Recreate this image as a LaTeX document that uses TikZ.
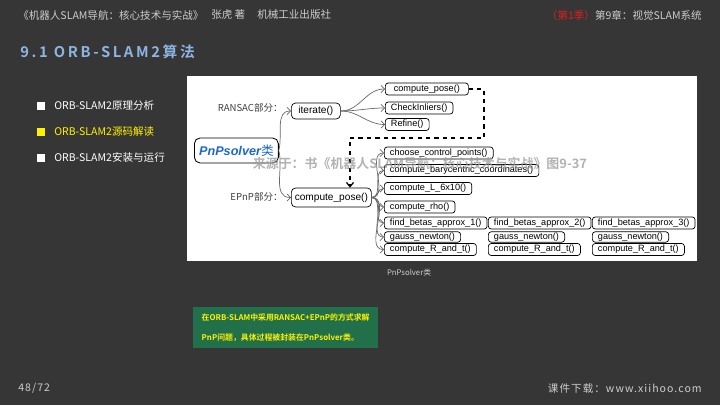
\documentclass[tikz,border=0pt]{standalone}
\usepackage{fontspec}
\setmainfont{Liberation Sans}
\newfontfamily\cjk{Noto Sans CJK SC}[BoldFont={Noto Sans CJK SC Bold}]
\newfontfamily\cjktitle{Noto Sans CJK SC}[BoldFont={Noto Sans CJK SC Bold},LetterSpace=18]
\newfontfamily\cjkwide{Noto Sans CJK SC}[LetterSpace=10]
\usetikzlibrary{arrows.meta,positioning,calc}
\definecolor{slidebg}{RGB}{54,54,54}
\definecolor{headgrey}{RGB}{205,205,205}
\definecolor{titleblue}{RGB}{141,180,226}
\definecolor{bookred}{RGB}{225,30,30}
\definecolor{notegreen}{RGB}{34,112,74}
\definecolor{classblue}{RGB}{30,105,200}
\definecolor{linegrey}{RGB}{105,105,105}
\newcommand\fsz[1]{\fontsize{#1}{#1}\selectfont}

\begin{document}
\begin{tikzpicture}[x=0.025cm, y=-0.025cm,
    head/.style={anchor=west, inner sep=0pt, text=headgrey, font=\cjk\fsz{7.5}},
    bullet/.style={rectangle, inner sep=0pt, minimum size=5pt},
    item/.style={anchor=west, inner sep=0pt, font=\cjk\fsz{7.5}},
    fn/.style={rectangle, draw=black, line width=0.5pt, rounded corners=2pt, fill=white,
               anchor=west, inner xsep=4pt, inner ysep=0pt, minimum height=0.3cm,
               font=\fsz{6.5}},
    hub/.style={fn, rounded corners=3pt, inner xsep=2pt, font=\fsz{7.2}},
    cls/.style={rectangle, draw=black, line width=0.6pt, rounded corners=4pt, fill=white,
                anchor=west, minimum width=2.075cm, minimum height=0.625cm,
                text=classblue, font=\bfseries\itshape\fsz{9}},
    part/.style={anchor=east, inner sep=0pt, text=black!75, font=\cjk\fsz{6.8}},
    link/.style={draw=linegrey, line width=0.5pt, -{Straight Barb[length=2.5pt,width=5pt]}},
    jump/.style={draw=black, dashed, line width=0.9pt, -{Straight Barb[length=3pt,width=5pt]}},
    foot/.style={inner sep=0pt, text=headgrey, font=\cjkwide\fsz{7.5}}
]
    % slide
    \fill[slidebg] (0,0) rectangle (720,405);

    % header line
    \node[head] (hbook) at (18,15) {《机器人SLAM导航：核心技术与实战》};
    \node[head] (hauth) at (211,15) {张虎 著};
    \node[head] (hpub) at (257,15) {机械工业出版社};
    \node[head, anchor=east] (hchap) at (702,15) {\textcolor{bookred}{（第1季）}第9章：视觉SLAM系统};

    % section title
    \node[anchor=west, inner sep=0pt, text=titleblue, font=\cjktitle\bfseries\fsz{10.5}] (title) at (20,52) {9.1 ORB-SLAM2算法};

    % outline
    \node[bullet, fill=white] (b1) at (41,106) {};
    \node[item, text=white] (t1) at (54,106) {ORB-SLAM2原理分析};
    \node[bullet, fill=yellow] (b2) at (41,132) {};
    \node[item, text=yellow] (t2) at (54,132) {ORB-SLAM2源码解读};
    \node[bullet, fill=white] (b3) at (41,158) {};
    \node[item, text=white] (t3) at (54,158) {ORB-SLAM2安装与运行};

    % figure panel
    \fill[white] (187,76) rectangle (697,261);

    % class and its two parts
    \node[cls] (pnp) at (194,150.5) {PnPsolver{\cjk\mdseries 类}};
    \node[hub, minimum width=1.225cm, minimum height=0.4cm] (iter) at (291,111) {iterate()};
    \node[hub, minimum width=2cm, minimum height=0.475cm] (cpe) at (291,197.5) {compute\_pose()};
    \node[part] (lr) at (283,108) {RANSAC部分：};
    \node[part] (le) at (283,197) {EPnP部分：};

    % RANSAC calls
    \node[fn, minimum width=2.075cm] (cpr) at (385,89) {compute\_pose()};
    \node[fn] (chk) at (385,108) {CheckInliers()};
    \node[fn] (ref) at (385,124.5) {Refine()};

    % EPnP calls
    \node[fn] (ccp) at (384,153) {choose\_control\_points()};
    \node[fn] (bar) at (384,170.5) {compute\_barycentric\_coordinates()};
    \node[fn] (l610) at (384,188.5) {compute\_L\_6x10()};
    \node[fn] (rho) at (384,207) {compute\_rho()};
    \node[fn] (fb1) at (384,223) {find\_betas\_approx\_1()};
    \node[fn, minimum height=0.26cm] (gn1) at (384,237) {gauss\_newton()};
    \node[fn] (rt1) at (384,249.5) {compute\_R\_and\_t()};
    \node[fn] (fb2) at (488,223) {find\_betas\_approx\_2()};
    \node[fn, minimum height=0.26cm] (gn2) at (488,237) {gauss\_newton()};
    \node[fn] (rt2) at (488,249.5) {compute\_R\_and\_t()};
    \node[fn] (fb3) at (592,223) {find\_betas\_approx\_3()};
    \node[fn, minimum height=0.26cm] (gn3) at (592,237) {gauss\_newton()};
    \node[fn] (rt3) at (592,249.5) {compute\_R\_and\_t()};

    \draw[link] (pnp.east) to[out=75,in=180] (iter.west);
    \draw[link] (pnp.east) to[out=-75,in=180] (cpe.west);
    \foreach \t in {cpr,chk,ref}
        \draw[link] (iter.east) to[out=0,in=180] (\t.west);
    \foreach \t in {ccp,bar,l610,rho,fb1,gn1,rt1}
        \draw[link] (cpe.east) to[out=0,in=180] (\t.west);

    % RANSAC pose handed over to EPnP
    \coordinate (dturn) at (484,138);
    \coordinate (ddrop) at (350,138);
    \draw[jump] (cpr.east) -| (dturn) -- (ddrop) -- (ddrop |- cpe.north);

    % source note over the figure
    \node[text=black!40, opacity=0.75, font=\cjk\bfseries\fsz{9.2}] (src) at (420,164) {来源于：书《机器人SLAM导航：核心技术与实战》图9-37};

    % caption
    \node[text=headgrey, font=\cjk\fsz{5.5}] (cap) at (409,273) {PnPsolver类};

    % note box
    \node[rectangle, fill=notegreen, anchor=north west, minimum width=4.5cm, minimum height=1.025cm,
          inner xsep=6pt, align=left, text=yellow, font=\cjk\bfseries\fontsize{5.6}{14}\selectfont] (note) at (193,307)
        {在ORB-SLAM中采用RANSAC+EPnP的方式求解\\PnP问题，具体过程被封装在PnPsolver类。};

    % footer
    \node[foot, anchor=west] (pg) at (18,388) {48/72};
    \node[foot, anchor=east] (dl) at (702,388) {课件下载：www.xiihoo.com};
\end{tikzpicture}
\end{document}
